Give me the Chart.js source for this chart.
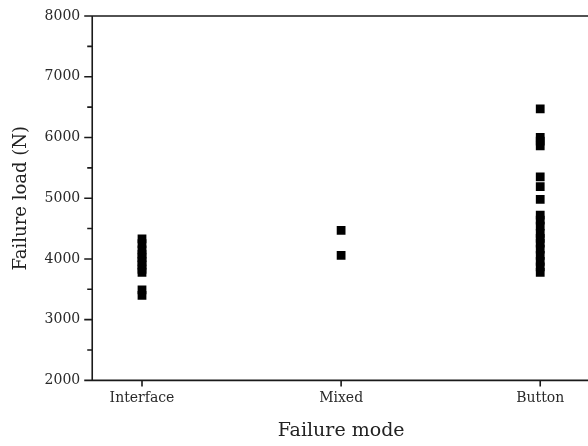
<!DOCTYPE html>
<html>
<head>
<meta charset="utf-8">
<script src="https://cdn.jsdelivr.net/npm/chart.js@4"></script>
<style>
  html, body { margin: 0; padding: 0; background: #fff; overflow: hidden; }
  #wrap { width: 600px; height: 446px; }
</style>
</head>
<body>
<div id="wrap"><canvas id="c"></canvas></div>
<script>
const categories = ["Interface", "Mixed", "Button"];
const interfaceLoads = [4330, 4250, 4150, 4080, 4020, 3960, 3900, 3830, 3780, 3490, 3400];
const mixedLoads = [4470, 4060];
const buttonLoads = [6470, 6000, 5940, 5860, 5350, 5190, 4980, 4720, 4640, 4540, 4420, 4340, 4260, 4160, 4060, 3960, 3870, 3780];
const yTicks = [2000, 3000, 4000, 5000, 6000, 7000, 8000];
const yMinorTicks = [2500, 3500, 4500, 5500, 6500, 7500];

const allSeries = [interfaceLoads, mixedLoads, buttonLoads];
const points = [];
allSeries.forEach((arr, i) => arr.forEach(v => points.push({ x: i, y: v })));

const frame = {
  id: 'frame',
  afterDraw(chart) {
    const { ctx, chartArea: a, scales } = chart;
    ctx.save();
    ctx.strokeStyle = '#1a1a1a';
    ctx.lineWidth = 1.6;
    ctx.beginPath();
    ctx.moveTo(a.left - 7, a.top); ctx.lineTo(a.right, a.top);
    ctx.moveTo(a.left, a.top); ctx.lineTo(a.left, a.bottom);
    ctx.moveTo(a.left - 7, a.bottom); ctx.lineTo(a.right, a.bottom);
    yTicks.forEach(v => { const y = scales.y.getPixelForValue(v); ctx.moveTo(a.left - 8, y); ctx.lineTo(a.left, y); });
    yMinorTicks.forEach(v => { const y = scales.y.getPixelForValue(v); ctx.moveTo(a.left - 5, y); ctx.lineTo(a.left, y); });
    categories.forEach((c, i) => { const x = scales.x.getPixelForValue(i); ctx.moveTo(x, a.bottom); ctx.lineTo(x, a.bottom + 6); });
    ctx.stroke();
    ctx.restore();
  }
};

new Chart(document.getElementById('c'), {
  type: 'scatter',
  data: {
    datasets: [{
      data: points,
      pointStyle: 'rect',
      pointRadius: 6.2,
      pointHoverRadius: 6.2,
      backgroundColor: '#000',
      borderColor: '#000',
      borderWidth: 0
    }]
  },
  options: {
    responsive: true,
    maintainAspectRatio: false,
    animation: false,
    layout: { padding: { top: 16, right: 10, bottom: 4, left: 11 } },
    plugins: { legend: { display: false }, tooltip: { enabled: false } },
    scales: {
      x: {
        type: 'linear',
        min: -0.25,
        max: 2.25,
        afterBuildTicks: s => { s.ticks = categories.map((c, i) => ({ value: i })); },
        ticks: {
          callback: v => categories[v],
          color: '#2a2a2a',
          font: { family: 'DejaVu Serif', size: 14 },
          padding: 2,
          maxRotation: 0
        },
        grid: { display: false, drawTicks: true, tickLength: 8 },
        border: { display: false },
        title: { display: true, text: 'Failure mode', color: '#222', font: { family: 'DejaVu Serif', size: 19 }, padding: { top: 10, bottom: 0 } }
      },
      y: {
        min: 2000,
        max: 8000,
        afterBuildTicks: s => { s.ticks = yTicks.map(v => ({ value: v })); },
        ticks: {
          callback: v => String(v),
          color: '#2a2a2a',
          font: { family: 'DejaVu Serif', size: 14 },
          padding: 4
        },
        grid: { display: false, drawTicks: true, tickLength: 8 },
        border: { display: false },
        title: { display: true, text: 'Failure load (N)', color: '#222', font: { family: 'DejaVu Serif', size: 18 }, padding: { top: 0, bottom: 8 } }
      }
    }
  },
  plugins: [frame]
});
</script>
</body>
</html>
